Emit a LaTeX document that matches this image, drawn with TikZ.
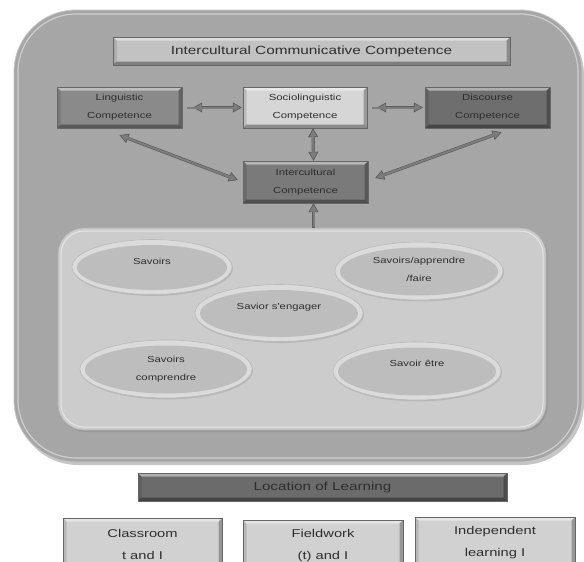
\documentclass[tikz,border=0pt]{standalone}
\usepackage{fontspec}
\setmainfont{Liberation Sans}
\newfontfamily\wf[FakeStretch=1.3]{Liberation Sans}
\usetikzlibrary{arrows.meta,shapes.geometric,shadows}
\definecolor{outerfill}{gray}{0.65}
\definecolor{innerfill}{gray}{0.80}
\definecolor{titlefill}{gray}{0.76}
\definecolor{lingfill}{gray}{0.54}
\definecolor{sociofill}{gray}{0.84}
\definecolor{discfill}{gray}{0.43}
\definecolor{intfill}{gray}{0.48}
\definecolor{locfill}{gray}{0.42}
\definecolor{botfill}{gray}{0.82}
\definecolor{ellfill}{gray}{0.74}
\definecolor{ellrim}{gray}{0.86}
\definecolor{arrowdark}{gray}{0.36}
\definecolor{arrowlight}{gray}{0.49}
\definecolor{textcol}{gray}{0.18}
\definecolor{edgecol}{gray}{0.40}
\tikzset{
  bevel/.style={path picture={
    \path (path picture bounding box.north west) coordinate (bnw)
          (path picture bounding box.north east) coordinate (bne)
          (path picture bounding box.south west) coordinate (bsw)
          (path picture bounding box.south east) coordinate (bse);
    \fill[white,opacity=0.45] (bnw) -- (bne) -- ([shift={(-#1,-#1)}]bne) -- ([shift={(#1,-#1)}]bnw) -- cycle;
    \fill[black,opacity=0.12] (bnw) -- ([shift={(#1,-#1)}]bnw) -- ([shift={(#1,#1)}]bsw) -- (bsw) -- cycle;
    \fill[black,opacity=0.35] (bsw) -- ([shift={(#1,#1)}]bsw) -- ([shift={(-#1,#1)}]bse) -- (bse) -- cycle;
    \fill[black,opacity=0.28] (bne) -- (bse) -- ([shift={(-#1,#1)}]bse) -- ([shift={(-#1,-#1)}]bne) -- cycle;
  }},
  bevel/.default=3.5pt,
  boxbase/.style={draw=edgecol, line width=0.4pt, inner sep=0pt, text=textcol, align=center, bevel},
  smallbox/.style={boxbase, minimum width=125, minimum height=41,
    font=\wf\fontsize{8.8}{18}\selectfont},
  bigbox/.style={boxbase, minimum width=160, minimum height=52,
    font=\wf\fontsize{11.3}{22}\selectfont},
  ellnode/.style n args={2}{shape=ellipse, minimum width=#1, minimum height=#2,
    inner sep=0pt, fill=ellrim, draw=gray!55, line width=0.6pt,
    drop shadow={shadow xshift=1pt, shadow yshift=-1.5pt, opacity=0.25},
    path picture={\fill[ellfill] ([yshift=-0.5pt]path picture bounding box.center)
      ellipse [x radius=#1/2-5pt, y radius=#2/2-5pt];}},
  elltxt/.style={text=textcol, align=center, inner sep=0pt,
    font=\wf\fontsize{8.7}{18}\selectfont},
  tipshape/.style={>={Triangle[width=10pt,length=9pt,line width=0.7pt,fill=arrowlight]}},
  arr/.style={draw=arrowdark, line width=3.2pt, <->, tipshape,
    postaction={draw=arrowlight, line width=2pt, -, shorten <=5pt, shorten >=5pt}},
  arrone/.style={draw=arrowdark, line width=3.2pt, ->, tipshape,
    postaction={draw=arrowlight, line width=2pt, -, shorten <=1pt, shorten >=5pt}}
}
\begin{document}
\begin{tikzpicture}[x=1pt,y=-1pt]
\useasboundingbox (0,0) rectangle (584,562);
\clip (0,0) rectangle (584,562);
\fill[white] (0,0) rectangle (584,562);

% outer rounded panel
\node[fill=outerfill, draw=gray!45, line width=0.8pt, rounded corners=62pt,
      minimum width=568, minimum height=452, inner sep=0pt,
      drop shadow={shadow xshift=2pt, shadow yshift=-3pt, opacity=0.45}] (outer) at (298,236) {};
\draw[white, opacity=0.45, line width=1.2pt, rounded corners=58pt] (18,14) rectangle (578,458);

% title
\node[boxbase, fill=titlefill, minimum width=397, minimum height=28,
      font=\wf\fontsize{11.8}{14}\selectfont] (title) at (311.5,51) {Intercultural Communicative Competence};

% competence boxes
\node[smallbox, fill=lingfill] (lin) at (119.5,107.5) {Linguistic\\Competence};
\node[smallbox, fill=sociofill, minimum width=124] (soc) at (305,107.5) {Sociolinguistic\\Competence};
\node[smallbox, fill=discfill] (dis) at (487.5,107.5) {Discourse\\Competence};
\node[smallbox, fill=intfill, minimum height=42] (int) at (305.5,182) {Intercultural\\Competence};

% inner panel
\node[fill=innerfill, draw=gray!60, line width=0.6pt, rounded corners=26pt,
      minimum width=488, minimum height=202, inner sep=0pt,
      drop shadow={shadow xshift=1.5pt, shadow yshift=-2pt, opacity=0.35}] (inner) at (302,329) {};
\draw[white, opacity=0.5, line width=1pt, rounded corners=23pt] (61,231) rectangle (543,427);

% ellipses
\node[ellnode={160}{55}, label={[elltxt, yshift=6pt]center:Savoirs}] (e1) at (152,267) {};
\node[ellnode={168}{58}, label={[elltxt, yshift=1.5pt]center:Savoirs/apprendre\\/faire}] (e2) at (419,271) {};
\node[ellnode={168}{57}, label={[elltxt, yshift=6pt]center:Savior s'engager}] (e3) at (279,313) {};
\node[ellnode={172}{58}, label={[elltxt]center:Savoirs\\comprendre}] (e4) at (166,369) {};
\node[ellnode={168}{58}, label={[elltxt, yshift=8pt]center:Savoir être}] (e5) at (417,371) {};

% connectors
\draw[arr, shorten <=11pt, shorten >=1pt] (lin) -- (soc);
\draw[arr, shorten <=10pt, shorten >=2pt] (soc) -- (dis);
\draw[arr] ([xshift=8pt]soc.south) -- ([xshift=8pt]int.north);
\draw[arr] ([yshift=-7pt]lin.south) -- ([xshift=-5pt,yshift=2pt]int.west);
\draw[arr] ([xshift=14pt,yshift=-4pt]dis.south) -- ([xshift=7pt,yshift=4pt]int.east);
\coordinate (vb) at ([xshift=8pt]int.south);
\draw[arrone] (vb |- inner.north) -- (vb);

% location of learning
\node[boxbase, fill=locfill, minimum width=369, minimum height=28,
      font=\wf\fontsize{11.7}{14}\selectfont] (loc) at (322.5,487) {Location of Learning};

\node[bigbox, fill=botfill, minimum width=159] (cls) at (142.5,544) {Classroom\\t and I};
\node[bigbox, fill=botfill] (fld) at (323,546) {Fieldwork\\(t) and I};
\node[bigbox, fill=botfill] (ind) at (495,543) {Independent\\learning I};
\end{tikzpicture}
\end{document}
